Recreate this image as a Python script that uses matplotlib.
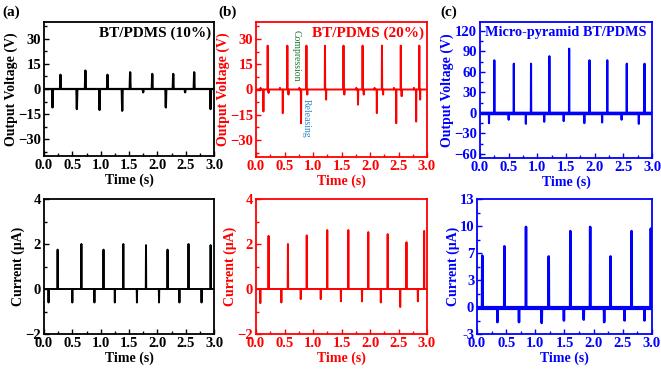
import numpy as np
import matplotlib.pyplot as plt
from matplotlib.ticker import FixedLocator, FixedFormatter, AutoMinorLocator

plt.rcParams['font.family'] = ['Liberation Serif', 'DejaVu Serif']
plt.rcParams['font.weight'] = 'bold'
plt.rcParams['mathtext.default'] = 'bf'

# ---- data (time in s, spike heights) ----
# (a) BT/PDMS 10%
va_t = [0.15, 0.29, 0.58, 0.73, 0.98, 1.12, 1.38, 1.52, 1.75, 1.91, 2.15, 2.28, 2.49, 2.65, 2.94]
va_v = [-11, 8.5, -12, 11, -12.5, 8.5, -13, 10, -2, 9, -11, 9, -2, 10, -12]
ia_t = [0.08, 0.24, 0.50, 0.66, 0.89, 1.05, 1.25, 1.40, 1.64, 1.80, 2.03, 2.18, 2.39, 2.55, 2.78, 2.94]
ia_v = [-0.6, 1.75, -0.6, 2.0, -0.6, 1.75, -0.6, 2.0, -0.6, 1.95, -0.6, 1.75, -0.6, 2.0, -0.6, 1.95]

# (b) BT/PDMS 20%
vb_t = [0.08, 0.13, 0.205, 0.22, 0.42, 0.47, 0.55, 0.57, 0.76, 0.79, 0.885, 0.90,
        1.21, 1.23, 1.535, 1.55, 1.76, 1.79, 1.87, 1.89, 2.08, 2.12, 2.21, 2.23,
        2.42, 2.46, 2.54, 2.555, 2.77, 2.81, 2.865, 2.88]
vb_v = [1, -13, 26, -2, 1, -14, 26, -3, 1, -20, 26, -3,
        26, -6, 26, -3, 1, -9, 26, -3, 1, -14, 26, -3,
        1, -20, 26, -4, 1, -19, 26, -6]
ib_t = [0.076, 0.22, 0.445, 0.56, 0.785, 0.89, 1.136, 1.25, 1.49, 1.62, 1.86, 1.97,
        2.19, 2.31, 2.53, 2.64, 2.84, 2.95]
ib_v = [-0.63, 2.36, -0.6, 2.0, -0.45, 2.38, -0.45, 2.62, -0.55, 2.62, -0.55, 2.53,
        -0.6, 2.44, -0.8, 2.08, -0.55, 2.58]

# (c) micro-pyramid BT/PDMS
vc_t = [0.157, 0.25, 0.50, 0.59, 0.80, 0.89, 1.12, 1.21, 1.46, 1.555, 1.82, 1.91,
        2.13, 2.22, 2.47, 2.56, 2.77, 2.87]
vc_v = [-15, 77, -10, 72, -16, 72, -13, 83, -12, 94, -15, 77,
        -14, 77, -10, 72, -16, 72]
ic_t = [0.09, 0.35, 0.47, 0.72, 0.84, 1.11, 1.23, 1.49, 1.60, 1.83, 1.94, 2.18,
        2.29, 2.53, 2.65, 2.87, 2.98]
ic_v = [6.3, -1.6, 7.4, -1.6, 9.7, -1.7, 6.2, -1.4, 9.2, -1.3, 9.7, -1.6,
        6.2, -1.4, 9.2, -1.4, 9.5]
ic_base = 0.1

c_ticks = [-3, 0.2, 3.4, 6.6, 9.8, 13]
c_labels = ['-3', '0', '3', '7', '10', '13']


def trace(ts, vs, base=0.0, w=0.004):
    x, y = [0.0], [base]
    for t, v in zip(ts, vs):
        x += [t - w, t, t + w]
        y += [base, v, base]
    x.append(3.0)
    y.append(base)
    return np.array(x), np.array(y)


fig = plt.figure(figsize=(6.61, 3.69), dpi=100)
W, H = 661.0, 369.0
FS = 10.5


def mkax(l, r, t, b):
    return fig.add_axes([l / W, 1 - b / H, (r - l) / W, (b - t) / H])


def style(ax, color, xlab, ylab):
    for s in ax.spines.values():
        s.set_color(color)
        s.set_linewidth(1.3)
    ax.tick_params(which='both', direction='in', colors=color, labelsize=FS,
                   top=False, right=False, width=1, pad=2)
    ax.tick_params(which='major', length=3.5)
    ax.tick_params(which='minor', length=2)
    ax.set_xlim(0, 3.0)
    ax.set_xticks([0, 0.5, 1.0, 1.5, 2.0, 2.5, 3.0])
    ax.xaxis.set_minor_locator(AutoMinorLocator(2))
    ax.yaxis.set_minor_locator(AutoMinorLocator(2))
    for lab in ax.get_xticklabels() + ax.get_yticklabels():
        lab.set_fontweight('bold')
    ax.set_xlabel(xlab, color=color, fontsize=10, fontweight='bold', labelpad=1)
    ax.set_ylabel(ylab, color=color, fontsize=10, fontweight='bold', labelpad=0)


# panel a
ax = mkax(44, 214, 22, 156)
x, y = trace(va_t, va_v, w=0.008)
ax.plot(x, y, color='black', lw=1.6)
ax.set_ylim(-40, 40)
ax.set_yticks([-30, -15, 0, 15, 30])
style(ax, 'black', 'Time (s)', 'Output Voltage (V)')
ax.text(0.985, 0.97, 'BT/PDMS (10%)', transform=ax.transAxes, ha='right', va='top',
        fontsize=11, fontweight='bold', color='black')

ax = mkax(44, 214, 199, 334)
x, y = trace(ia_t, ia_v, w=0.004)
ax.plot(x, y, color='black', lw=1.4)
ax.set_ylim(-2, 4)
ax.set_yticks([-2, 0, 2, 4])
style(ax, 'black', 'Time (s)', 'Current (μA)')

# panel b
red = '#ff0000'
ax = mkax(256, 427, 22, 157)
x, y = trace(vb_t, vb_v, w=0.004)
ax.plot(x, y, color=red, lw=1.4)
ax.set_ylim(-40, 40)
ax.set_yticks([-30, -15, 0, 15, 30])
style(ax, red, 'Time (s)', 'Output Voltage (V)')
ax.text(0.985, 0.97, 'BT/PDMS (20%)', transform=ax.transAxes, ha='right', va='top',
        fontsize=11, fontweight='bold', color=red)
ax.text(0.70, 20, 'Compression', rotation=-90, ha='center', va='center',
        fontsize=7, fontweight='normal', color='#1e7a32')
ax.text(0.88, -17, 'Releasing', rotation=-90, ha='center', va='center',
        fontsize=7, fontweight='normal', color='#2b86c8')

ax = mkax(256, 427, 199, 334)
x, y = trace(ib_t, ib_v, w=0.004)
ax.plot(x, y, color=red, lw=1.4)
ax.set_ylim(-2, 4)
ax.set_yticks([-2, 0, 2, 4])
style(ax, red, 'Time (s)', 'Current (μA)')

# panel c
blue = '#0000ff'
ax = mkax(480, 652, 22, 158)
x, y = trace(vc_t, vc_v, w=0.003)
ax.axhline(0, color=blue, lw=2.5)
ax.plot(x, y, color=blue, lw=1.5)
ax.set_ylim(-66, 133)
ax.set_yticks([-60, -30, 0, 30, 60, 90, 120])
style(ax, blue, 'Time (s)', 'Output Voltage (V)')
ax.text(0.5, 0.97, 'Micro-pyramid BT/PDMS', transform=ax.transAxes, ha='center', va='top',
        fontsize=10.3, fontweight='bold', color=blue)

ax = mkax(477, 652, 199, 334)
x, y = trace(ic_t, ic_v, base=ic_base, w=0.004)
ax.axhline(ic_base, color=blue, lw=3)
ax.plot(x, y, color=blue, lw=1.8)
ax.set_ylim(-3, 13)
style(ax, blue, 'Time (s)', 'Current (μA)')
ax.yaxis.set_major_locator(FixedLocator(c_ticks))
ax.yaxis.set_major_formatter(FixedFormatter(c_labels))
ax.yaxis.set_minor_locator(AutoMinorLocator(2))
for lab in ax.get_yticklabels():
    lab.set_fontweight('bold')

fig.text(2 / W, 1 - 12 / H, '(a)', fontsize=11, fontweight='bold', va='center')
fig.text(218 / W, 1 - 12 / H, '(b)', fontsize=11, fontweight='bold', va='center')
fig.text(440 / W, 1 - 12 / H, '(c)', fontsize=11, fontweight='bold', va='center')

fig.savefig('out.png', dpi=100)
